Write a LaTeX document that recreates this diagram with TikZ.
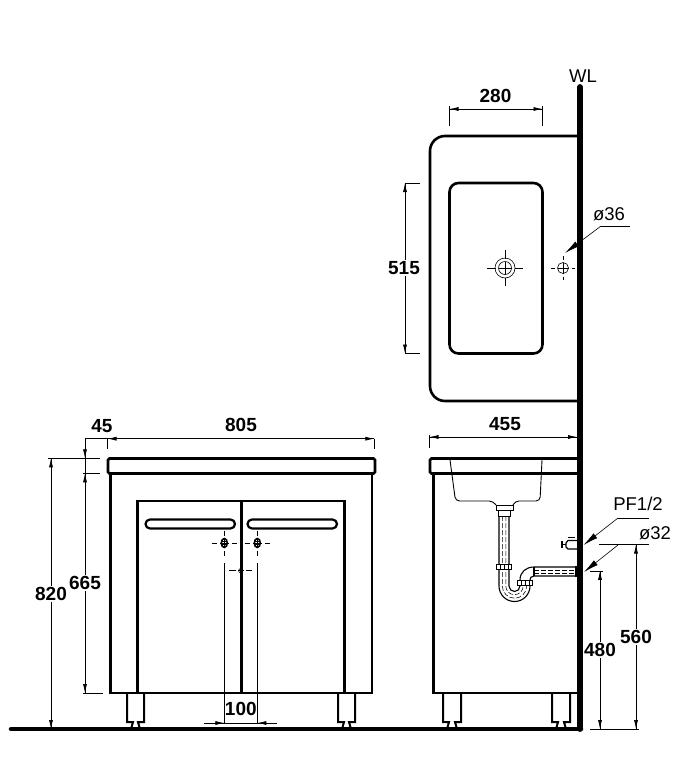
\documentclass[tikz,border=0pt]{standalone}
\usepackage{fontspec}
\setmainfont{Liberation Sans}
\usetikzlibrary{arrows.meta}
\tikzset{
  heavy/.style={line width=2.6pt},
  wall/.style={line width=5.8pt},
  thinline/.style={line width=0.6pt},
  pipeline/.style={line width=0.9pt},
  hidden/.style={line width=0.55pt,dash pattern=on 5pt off 2pt},
  dimline/.style={line width=0.7pt},
  dimtip/.style={line width=0.7pt,-{Latex[length=9pt,width=4pt]}},
  leadtip/.style={line width=0.6pt,-{Latex[length=15pt,width=6pt]}},
  dimtxt/.style={font=\fontsize{19}{19}\selectfont\bfseries,fill=white,inner sep=1pt},
  notetxt/.style={font=\fontsize{18.5}{19}\selectfont,inner sep=0pt},
}
\newcommand{\leg}[2]{%
  \draw[line width=2pt] (#1,693) -- (#1,722) -- (#1+6,722) -- (#1+4,729);
  \draw[line width=2pt] (#2,693) -- (#2,722) -- (#2-6,722) -- (#2-4,729);
}
\newcommand{\crossmark}[4]{% x, y, arm, gap
  \draw[thinline] (#1-#3,#2) -- (#1-#4-3,#2) (#1-#4,#2) -- (#1+#4,#2) (#1+#4+3,#2) -- (#1+#3,#2);
  \draw[thinline] (#1,#2-#3) -- (#1,#2-#4-3) (#1,#2-#4) -- (#1,#2+#4) (#1,#2+#4+3) -- (#1,#2+#3);
}
\begin{document}
\begin{tikzpicture}[x=1pt,y=-1pt]
\useasboundingbox (0,0) rectangle (694,758);
\fill[white] (0,0) rectangle (694,758);

% wall and floor
\draw[heavy,line width=4.5pt,line cap=round] (11,729) -- (581,729);
\draw[wall,line cap=round] (580,87) -- (580,729);

% basin seen from above
\draw[heavy,rounded corners=15pt] (578,136) -- (430,136) -- (430,401) -- (578,401);
\draw[heavy,rounded corners=9pt] (449.5,183) rectangle (542.5,353.5);
\draw[thinline] (505,268) circle (10);
\draw[thinline] (505,268) circle (6.5);
\crossmark{505}{268}{18}{6.5}
\draw[thinline] (563,268) circle (5.5);
\crossmark{563}{268}{12}{5.5}

% front view
\draw[heavy,rounded corners=1.5pt] (108,458.5) rectangle (375,473.5);
\draw[line width=2.2pt] (110.5,473.5) -- (110.5,693) -- (372,693) -- (372,473.5);
\draw[line width=2.2pt] (137.5,693) -- (137.5,501) -- (344.5,501) -- (344.5,693);
\draw[line width=2.2pt] (241.5,501) -- (241.5,693);
\draw[line width=2.2pt,rounded corners=4.5pt] (145.5,519.5) rectangle (235,528.5);
\draw[line width=2.2pt,rounded corners=4.5pt] (247.5,519.5) rectangle (337,528.5);
\leg{127}{144}
\leg{338}{355}
\draw[line width=1.6pt] (224.3,543) ellipse (3 and 4.5);
\draw[line width=1.6pt] (257.3,543) ellipse (3 and 4.5);
\draw[line width=0.8pt] (222,541.5) -- (227,541.5) (222,544.5) -- (227,544.5);
\draw[line width=0.8pt] (255,541.5) -- (260,541.5) (255,544.5) -- (260,544.5);
\crossmark{224.3}{543}{12.5}{4.5}
\crossmark{257.3}{543}{12.5}{4.5}
\draw[thinline] (240.8,570.7) circle (2.2);
\draw[thinline] (229,570.7) -- (236,570.7) (238,570.7) -- (244,570.7) (246,570.7) -- (252,570.7);
\draw[thinline] (240.8,564) -- (240.8,578);

% side view
\draw[heavy,rounded corners=1.5pt] (577,458.5) -- (430,458.5) -- (430,473.5) -- (577,473.5);
\draw[line width=2.2pt] (433.5,473.5) -- (433.5,693) -- (577,693);
\leg{443}{461}
\leg{552}{570}

% bowl in section and drain
\draw[pipeline,rounded corners=4pt] (450,460) -- (455.5,501) -- (493,501) -- (496,505);
\draw[pipeline,rounded corners=4pt] (542,460) -- (540,501) -- (515,501) -- (513,505);
\draw[pipeline] (496,505) rectangle (513,510);
\draw[pipeline] (498.5,510) rectangle (510.5,516);
\draw[line width=1.1pt] (499,516) -- (499,586) arc[start angle=180,end angle=0,radius=15.5] -- (530,580);
\draw[line width=1.1pt] (509,516) -- (509,586) arc[start angle=180,end angle=0,radius=5.5] -- (520,580);
\draw[hidden] (502.3,516) -- (502.3,586) arc[start angle=180,end angle=0,radius=12.2];
\draw[hidden] (505.8,516) -- (505.8,586) arc[start angle=180,end angle=0,radius=8.7];
\draw[line width=1.1pt] (520,580) .. controls (520,572) and (526,567) .. (534,567) -- (576,567);
\draw[line width=1.1pt] (530,580) .. controls (530,578) and (531,576) .. (534,576) -- (576,576);
\draw[line width=1.1pt] (534,567) -- (534,576) (576,566) -- (576,577);
\draw[hidden] (534,570) -- (576,570) (534,573) -- (576,573);
\draw[line width=1.1pt,fill=white] (496.5,564.5) rectangle (511.5,569.5);
\draw[pipeline] (500,564.5) -- (500,569.5) (504,564.5) -- (504,569.5) (508,564.5) -- (508,569.5);
\draw[line width=1.1pt,fill=white] (517.5,580.5) rectangle (532.5,585.5);
\draw[pipeline] (521,580.5) -- (521,585.5) (525,580.5) -- (525,585.5) (529,580.5) -- (529,585.5);

% valve
\draw[line width=1.2pt] (577,540.5) -- (568,540.5) -- (566,543) -- (566,547) -- (568,549) -- (577,549);
\draw[line width=1.8pt] (562,541) -- (562,548);
\draw[line width=1.2pt] (562,544.5) -- (566,544.5);
\draw[line width=1.6pt] (568,537.5) -- (575,537.5);

% dimensions
\draw[thinline] (449.5,106) -- (449.5,126) (542.5,106) -- (542.5,126);
\draw[dimline] (449.5,109) -- (542.5,109);
\draw[dimtip] (463,109) -- (449.5,109);
\draw[dimtip] (529,109) -- (542.5,109);
\node[dimtxt,fill=none] (dim280) at (495.5,96) {280};

\draw[dimline] (405,183) -- (420,183) (405,353.5) -- (420,353.5);
\draw[dimtip] (405,197) -- (405,183);
\draw[dimtip] (405,340) -- (405,353.5);
\draw[dimline] (405,183) -- (405,353.5);
\node[dimtxt] (dim515) at (404,268) {515};

\draw[thinline] (429.5,435) -- (429.5,448);
\draw[dimline] (429.5,437) -- (577,437);
\draw[dimtip] (443,437) -- (429.5,437);
\draw[dimtip] (564,437) -- (577,437);
\node[dimtxt,fill=none] (dim455) at (505,424) {455};

\draw[dimline] (85,438.7) -- (374.3,438.7);
\draw[thinline] (107.5,438.7) -- (107.5,449) (374.3,438.7) -- (374.3,449);
\draw[dimtip] (121,438.7) -- (107.5,438.7);
\draw[dimtip] (361,438.7) -- (374.3,438.7);
\node[dimtxt,fill=none] (dim45) at (102,426) {45};
\node[dimtxt,fill=none] (dim805) at (241,425) {805};

\draw[thinline] (48,458.3) -- (100,458.3) (83,473.3) -- (100,473.3) (83,693) -- (103,693);
\draw[dimline] (85,438.7) -- (85,693);
\draw[dimtip] (85,447) -- (85,458.3);
\draw[dimtip] (85,485) -- (85,473.3);
\draw[dimtip] (85,681) -- (85,693);
\node[dimtxt] (dim665) at (85,583) {665};

\draw[dimline] (51,458.3) -- (51,729);
\draw[dimtip] (51,472) -- (51,458.3);
\draw[dimtip] (51,716) -- (51,729);
\node[dimtxt] (dim820) at (51,594) {820};

\draw[thinline] (224.3,563) -- (224.3,724) (257.3,563) -- (257.3,724);
\draw[dimline] (204,723) -- (277,723);
\draw[dimtip] (212,723) -- (224.3,723);
\draw[dimtip] (269,723) -- (257.3,723);
\node[dimtxt,fill=none] (dim100) at (240.8,709) {100};

\draw[thinline] (590,570.8) -- (603,570.8) (590,729.3) -- (639,729.3) (599,544.5) -- (649,544.5);
\draw[dimline] (600,570.8) -- (600,729);
\draw[dimtip] (600,583) -- (600,570.8);
\draw[dimtip] (600,717) -- (600,729);
\node[dimtxt] (dim480) at (600,650) {480};
\draw[dimline] (636,544.5) -- (636,729);
\draw[dimtip] (636,557) -- (636,544.5);
\draw[dimtip] (636,717) -- (636,729);
\node[dimtxt] (dim560) at (636,637) {560};

% notes with leaders
\node[notetxt] (wl) at (583,76) {WL};
\node[notetxt] (hole36) at (609,214) {ø36};
\node[notetxt] (pf12) at (638,504) {PF1/2};
\node[notetxt] (hole32) at (655,533) {ø32};
\coordinate (tip36) at (565,253);
\coordinate (tip12) at (583.5,545);
\coordinate (tip32) at (584,572);
\draw[thinline] (630,226) -- (601,226);
\draw[leadtip] (601,226) -- (tip36);
\draw[thinline] (649,518) -- (618,518);
\draw[leadtip] (618,518) -- (tip12);
\draw[leadtip] (618,545) -- (tip32);
\end{tikzpicture}
\end{document}
